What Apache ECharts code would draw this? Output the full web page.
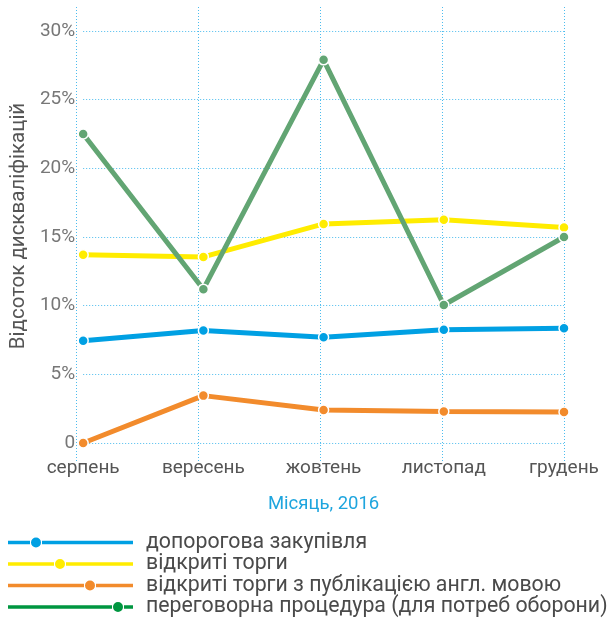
<!DOCTYPE html>
<html>
<head>
<meta charset="utf-8">
<script src="https://cdn.jsdelivr.net/npm/echarts@6/dist/echarts.min.js"></script>
<style>
  html, body { margin: 0; padding: 0; background: #fff; }
  #chart { width: 611px; height: 626px; }
</style>
</head>
<body>
<div id="chart"></div>
<script>
var months = ["серпень", "вересень", "жовтень", "листопад", "грудень"];
var yTicks = [0, 5, 10, 15, 20, 25, 30];

var belowThreshold = [7.45, 8.2, 7.7, 8.25, 8.35];
var openTenders = [13.7, 13.55, 15.95, 16.25, 15.7];
var openTendersEng = [0, 3.45, 2.4, 2.3, 2.25];
var negotiation = [22.5, 11.2, 27.9, 10.05, 15.0];

var names = [
  "допорогова закупівля",
  "відкриті торги",
  "відкриті торги з публікацією англ. мовою",
  "переговорна процедура (для потреб оборони)"
];
var colors = ["#00a0e3", "#ffec00", "#f28b2c", "#62a573"];
var legendColors = ["#00a0e3", "#ffec00", "#f28b2c", "#009640"];
var dotPos = [28, 52, 82, 110];

var font = "Roboto, 'Noto Sans', sans-serif";
var gridColor = "#4cbcee";

// legend icon: a line broken around a dot
function legendIcon(cx) {
  var r = 4.5, gap = 1.5, w = 125;
  return "path://M0 3.25 H" + (cx - r - gap) + " V6.75 H0 Z " +
    "M" + (cx + r + gap) + " 3.25 H" + w + " V6.75 H" + (cx + r + gap) + " Z " +
    "M" + (cx - 5) + " 5 A5 5 0 1 0 " + (cx + 5) + " 5 A5 5 0 1 0 " + (cx - 5) + " 5 Z";
}

var chart = echarts.init(document.getElementById("chart"));

function makeSeries(i, data) {
  return {
    name: names[i],
    type: "line",
    data: data,
    xAxisIndex: 0,
    yAxisIndex: 0,
    symbol: "circle",
    symbolSize: 10,
    showAllSymbol: true,
    lineStyle: { color: colors[i], width: 5 },
    itemStyle: { color: colors[i], borderColor: "#fff", borderWidth: 1.5 },
    emphasis: { disabled: true }
  };
}

var option = {
  animation: false,
  textStyle: { fontFamily: font },
  grid: [
    { left: 76, right: 47, top: 31, bottom: 183 },
    { left: 76, right: 47, top: 7, bottom: 163 }
  ],
  xAxis: [
    {
      gridIndex: 0,
      type: "category",
      data: months,
      boundaryGap: false,
      axisLine: { show: false },
      axisTick: { show: false },
      splitLine: { show: false },
      axisLabel: { color: "#555", fontSize: 19, margin: 16, fontFamily: font },
      name: "Місяць, 2016",
      nameLocation: "middle",
      nameGap: 52,
      nameTextStyle: { color: "#1ea5de", fontSize: 18.5, fontFamily: font }
    },
    {
      gridIndex: 1,
      type: "category",
      data: months,
      boundaryGap: false,
      axisLine: { show: false },
      axisTick: { show: false },
      axisLabel: { show: false },
      splitLine: { show: true, lineStyle: { color: gridColor, type: [1, 2], width: 1 } }
    }
  ],
  yAxis: [
    {
      gridIndex: 0,
      type: "value",
      min: yTicks[0],
      max: yTicks[yTicks.length - 1],
      interval: 5,
      axisLine: { show: false },
      axisTick: { show: false },
      axisLabel: {
        color: "#777",
        fontSize: 19,
        margin: 8,
        fontFamily: font,
        formatter: function (v) { return v === 0 ? "0" : v + "%"; }
      },
      splitLine: { show: true, lineStyle: { color: gridColor, type: [1, 2], width: 1 } },
      name: "Відсоток дискваліфікацій",
      nameLocation: "middle",
      nameGap: 48,
      nameTextStyle: { color: "#555", fontSize: 20.5, fontFamily: font, padding: [0, 0, 0, 22] }
    },
    {
      gridIndex: 1,
      type: "value",
      show: false
    }
  ],
  legend: {
    orient: "vertical",
    left: 3,
    top: 527,
    itemWidth: 125,
    itemHeight: 10,
    itemGap: 0.5,
    selectedMode: false,
    textStyle: { color: "#4a4a4a", fontSize: 21.3, lineHeight: 20, fontFamily: font, padding: [0, 0, 0, 8] },
    data: names.map(function (n, i) {
      return {
        name: n,
        icon: legendIcon(dotPos[i]),
        itemStyle: { color: legendColors[i], borderWidth: 0 }
      };
    })
  },
  series: [
    makeSeries(0, belowThreshold),
    makeSeries(1, openTenders),
    makeSeries(2, openTendersEng),
    makeSeries(3, negotiation)
  ]
};

chart.setOption(option);
</script>
</body>
</html>
